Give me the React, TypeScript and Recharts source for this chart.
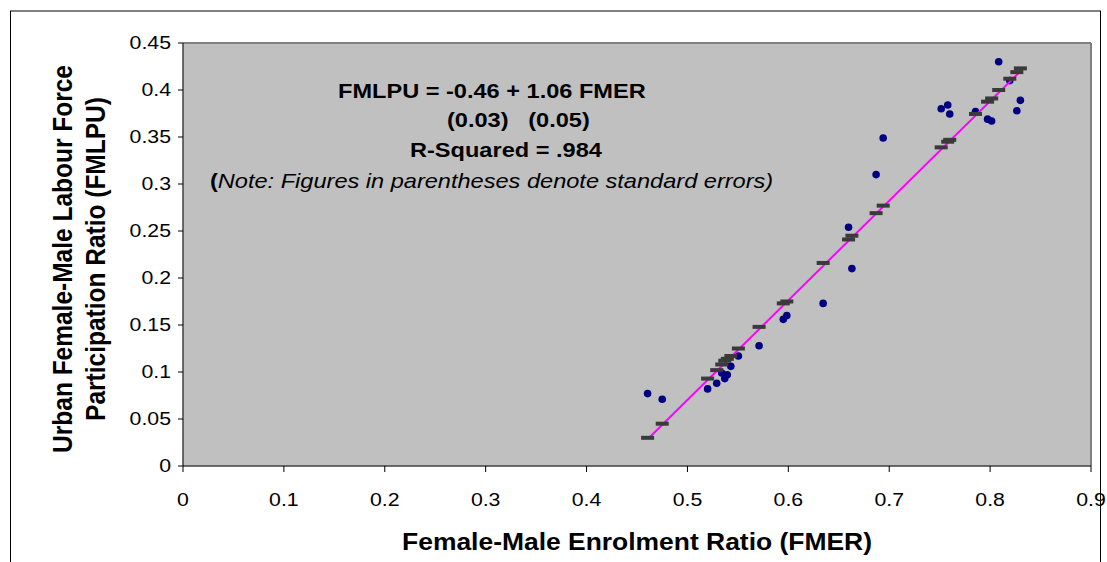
import React from "react";
import {
  ScatterChart, Scatter, XAxis, YAxis, CartesianGrid, ReferenceLine,
} from "recharts";

// enrolment ratio (x), observed participation ratio, fitted value from the regression
const fmer = [
  0.4605, 0.475, 0.52, 0.529, 0.534, 0.537, 0.5395, 0.543, 0.5505, 0.571,
  0.595, 0.5985, 0.6345, 0.6597, 0.663, 0.687, 0.694, 0.7515, 0.758, 0.76,
  0.7855, 0.7975, 0.8015, 0.8085, 0.8195, 0.8265, 0.83,
];
const fmlpu = [
  0.077, 0.071, 0.082, 0.088, 0.099, 0.093, 0.097, 0.106, 0.117, 0.128,
  0.156, 0.16, 0.173, 0.254, 0.21, 0.31, 0.349, 0.38, 0.384, 0.3745,
  0.377, 0.369, 0.367, 0.43, 0.41, 0.378, 0.389,
];
const fitted = [
  0.03, 0.045, 0.093, 0.102, 0.108, 0.112, 0.114, 0.117, 0.125, 0.148,
  0.173, 0.175, 0.216, 0.241, 0.245, 0.269, 0.277, 0.339, 0.345, 0.347,
  0.3745, 0.3876, 0.391, 0.4, 0.412, 0.419, 0.423,
];
const trendX = [0.461, 0.831];
const trendY = [0.029, 0.421];

const xTicks = [0, 0.1, 0.2, 0.3, 0.4, 0.5, 0.6, 0.7, 0.8, 0.9];
const yTicks = [0, 0.05, 0.1, 0.15, 0.2, 0.25, 0.3, 0.35, 0.4, 0.45];

const observed = fmer.map((x, i) => ({ x, y: fmlpu[i] }));
const predicted = fmer.map((x, i) => ({ x, y: fitted[i] }));
const trend = trendX.map((x, i) => ({ x, y: trendY[i] }));

const FONT = "'Liberation Sans', Arial, sans-serif";
const STRETCH = 1.15; // the original glyphs are a bit wider than they are tall
const PLOT_BG = "#C0C0C0";

function Txt({ x, y, size, anchor = "middle", weight = "normal", rotate = 0, children }: any) {
  return (
    <g transform={`translate(${x},${y}) scale(${STRETCH},1) rotate(${rotate})`}>
      <text
        x={0}
        y={0}
        textAnchor={anchor}
        dominantBaseline="central"
        fontFamily={FONT}
        fontSize={size}
        fontWeight={weight}
        fill="#000"
        style={{ whiteSpace: "pre" }}
      >
        {children}
      </text>
    </g>
  );
}

const XTick = ({ x, y, payload }: any) => (
  <Txt x={x} y={y} size={18.5}>{String(payload.value)}</Txt>
);
const YTick = ({ x, y, payload }: any) => (
  <Txt x={x} y={y} size={18.5} anchor="end">{String(payload.value)}</Txt>
);

const XTitle = ({ viewBox }: any) => (
  <Txt x={viewBox.x + viewBox.width / 2} y={542} size={23} weight="bold">
    Female-Male Enrolment Ratio (FMER)
  </Txt>
);
const YTitle = () => (
  <g>
    <Txt x={62} y={259} size={24.5} weight="bold" rotate={-90}>Urban Female-Male Labour Force</Txt>
    <Txt x={95} y={259} size={24.5} weight="bold" rotate={-90}>Participation Ratio (FMLPU)</Txt>
  </g>
);

const Dot = (p: any) => <circle cx={p.cx} cy={p.cy} r={3.8} fill="#000080" />;
const Dash = (p: any) => <rect x={p.cx - 6.5} y={p.cy - 2} width={13} height={4} fill="#3A3A3A" />;

export default function App() {
  return (
    <div style={{ position: "absolute", left: 0, top: 0, width: 1107, height: 562, background: "#fff", overflow: "hidden" }}>
      <ScatterChart width={1107} height={562} margin={{ top: 43, right: 16, left: 0, bottom: 0 }}>
        <CartesianGrid fill={PLOT_BG} fillOpacity={1} stroke={PLOT_BG} />
        <XAxis
          type="number"
          dataKey="x"
          domain={[0, 0.9]}
          ticks={xTicks}
          height={96}
          tickSize={6}
          tickMargin={28}
          stroke="#000"
          tick={<XTick />}
          label={{ content: XTitle }}
        />
        <YAxis
          type="number"
          dataKey="y"
          domain={[0, 0.45]}
          ticks={yTicks}
          width={183}
          tickSize={5}
          tickMargin={7}
          stroke="#000"
          tick={<YTick />}
          label={{ content: YTitle }}
        />
        <ReferenceLine y={0.45} stroke="#808080" strokeWidth={2} />
        <ReferenceLine x={0.9} stroke="#808080" strokeWidth={2} />
        <Scatter data={observed} shape={Dot} isAnimationActive={false} />
        <Scatter
          data={trend}
          line={{ stroke: "#FF00FF", strokeWidth: 2 }}
          shape={() => <g />}
          isAnimationActive={false}
        />
        <Scatter data={predicted} shape={Dash} isAnimationActive={false} />
      </ScatterChart>
      <svg width={1107} height={562} style={{ position: "absolute", left: 0, top: 0, pointerEvents: "none" }}>
        <rect x={10.5} y={11} width={1090} height={600} fill="none" stroke="#000" strokeWidth={1} />
        <Txt x={338} y={91} size={20.5} anchor="start" weight="bold">FMLPU = -0.46 + 1.06 FMER</Txt>
        <Txt x={447} y={120} size={20.5} anchor="start" weight="bold">(0.03)   (0.05)</Txt>
        <Txt x={410} y={150} size={20.5} anchor="start" weight="bold">R-Squared = .984</Txt>
        <g transform={`translate(210,181) scale(${STRETCH},1)`}>
          <text x={0} y={0} dominantBaseline="central" fontFamily={FONT} fontSize={20.5} fill="#000">
            <tspan fontWeight="bold">(</tspan>
            <tspan fontStyle="italic">Note: Figures in parentheses denote standard errors)</tspan>
          </text>
        </g>
      </svg>
    </div>
  );
}
